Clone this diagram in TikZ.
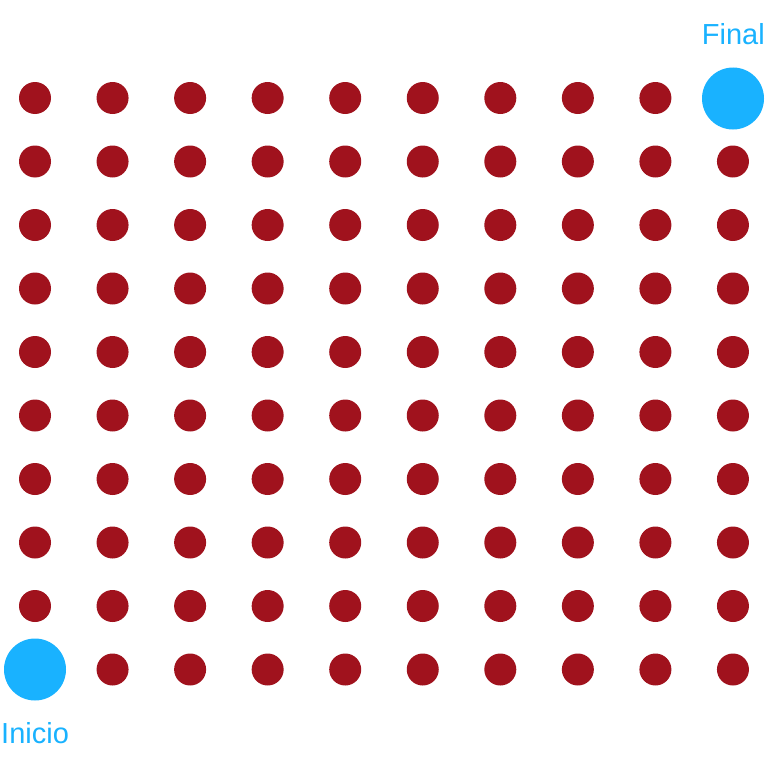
\documentclass[tikz,border=0pt]{standalone}
\usepackage{fontspec}
\setmainfont{Liberation Sans}
\definecolor{dotred}{HTML}{A0121D}
\definecolor{endblue}{HTML}{19B2FF}
\begin{document}
\begin{tikzpicture}[x=1pt,y=-1pt,
  dot/.style={circle,fill=dotred,draw=none,minimum size=32pt,inner sep=0pt},
  bigdot/.style={circle,fill=endblue,draw=none,minimum size=62pt,inner sep=0pt},
  lbl/.style={text=endblue,font=\fontsize{29}{32}\selectfont,inner sep=0pt}]
\useasboundingbox (0,0) rectangle (768,768);
\foreach \i in {0,...,9}{
  \foreach \j in {0,...,9}{
    \pgfmathsetmacro{\xx}{35+\i*77.55}
    \pgfmathsetmacro{\yy}{98+\j*63.5}
    \ifnum\i=0 \ifnum\j=9 \else
      \node[dot] (d-\i-\j) at (\xx,\yy) {};
    \fi\else
    \ifnum\i=9 \ifnum\j=0 \else
      \node[dot] (d-\i-\j) at (\xx,\yy) {};
    \fi\else
      \node[dot] (d-\i-\j) at (\xx,\yy) {};
    \fi\fi
  }
}
\node[bigdot] (start) at (35,669.5) {};
\node[bigdot] (goal) at (733,98.5) {};
\node[lbl,anchor=base west] (inicio) at (1,743) {Inicio};
\node[lbl,anchor=base east] (final) at (765,45) {Final};
\end{tikzpicture}
\end{document}
